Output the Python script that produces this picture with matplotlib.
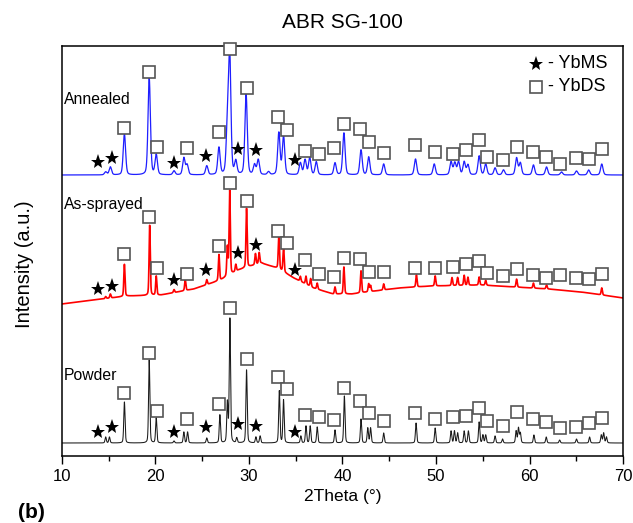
import numpy as np
import matplotlib
matplotlib.use('Agg')
import matplotlib.pyplot as plt
from matplotlib.ticker import MultipleLocator

plt.rcParams['font.family'] = ['Liberation Sans', 'DejaVu Sans']

# ---------------- data ----------------
# peak positions (2theta, deg) and heights above baseline (a.u.)
powder_pos = [14.7, 15.1, 16.7, 19.35, 20.1, 22.0, 23.05, 23.45, 25.5, 26.9, 27.7, 27.97,
              28.7, 29.75, 30.75, 31.2, 33.25, 33.7, 35.55, 36.1, 36.55, 37.3, 39.2, 40.2,
              41.98, 42.7, 43.0, 44.4, 47.86, 49.9, 51.6, 51.96, 52.3, 53.0, 53.45, 54.6,
              55.0, 55.3, 56.3, 57.1, 58.55, 58.8, 59.0, 60.45, 61.77, 63.2, 65.0, 66.4,
              67.65, 67.9, 68.2]
powder_hgt = [6, 6, 41, 83, 25, 2, 11, 11, 5, 28, 40, 124,
              5, 73, 6, 7, 52, 43, 7, 17, 17, 16, 13, 47,
              24, 15, 15, 10, 20, 15, 12, 12, 10, 12, 12, 21,
              8, 8, 7, 4, 12, 15, 10, 8, 6, 3, 4, 6,
              8, 10, 6]
powder_base = 13

sprayed_pos = [14.7, 15.2, 16.7, 19.4, 20.1, 22.0, 23.2, 25.5, 26.8, 27.7, 27.95, 28.6,
               29.75, 30.7, 31.1, 33.2, 33.7, 35.5, 36.1, 36.6, 37.3, 39.2, 40.15, 41.98,
               42.8, 43.0, 44.4, 47.9, 49.9, 51.7, 52.3, 53.0, 53.4, 54.6, 55.3, 58.6,
               60.4, 61.8, 67.7]
sprayed_hgt = [2, 4, 32, 70, 19, 3, 11, 5, 26, 29, 84, 7,
               59, 11, 11, 34, 25, 5, 8, 8, 6, 7, 27, 22,
               8, 6, 6, 12, 10, 8, 8, 10, 8, 8, 5, 8,
               5, 4, 7]
# amorphous background of the as-sprayed coating
sprayed_bg_x = [10, 13.4, 17, 20.6, 24.1, 27, 28.9, 29.9, 31.3, 33, 34.8, 36.9, 39, 41,
                46, 49.5, 54.8, 58.4, 62, 65.5, 70]
sprayed_bg_y = [152, 156, 160, 161, 167, 176, 186, 189, 193, 188, 178, 168, 162, 162,
                168, 170, 171, 169, 167, 164, 158]

annealed_pos = [14.7, 15.2, 16.7, 19.35, 20.1, 22.0, 23.05, 23.4, 25.5, 26.8, 27.7, 27.95,
                28.6, 29.7, 30.6, 31.0, 32.1, 33.2, 33.7, 35.5, 36.0, 36.5, 37.2, 39.2,
                40.15, 41.98, 42.8, 44.4, 47.8, 49.8, 51.6, 52.0, 52.4, 53.0, 53.4, 54.6,
                55.3, 56.3, 57.2, 58.6, 59.0, 60.4, 61.8, 63.4, 65.0, 66.3, 67.7]
annealed_hgt = [3, 8, 41, 97, 20, 4, 17, 10, 9, 27, 45, 119,
                13, 81, 10, 15, 3, 42, 39, 12, 15, 17, 13, 12,
                42, 25, 18, 11, 16, 11, 13, 12, 13, 13, 10, 19,
                11, 7, 5, 17, 12, 10, 8, 3, 4, 5, 11]
annealed_base = 281

# phase markers
star_x = [13.9, 15.4, 22.0, 25.4, 28.8, 30.8, 34.9]
star_y_annealed = [293.7, 297.7, 293.3, 300, 307, 306, 296]
star_y_sprayed = [166.7, 170, 176, 186, 202.7, 211, 186]
star_y_powder = [23.7, 28.7, 24.3, 28.7, 31.7, 30.3, 23.7]

square_x = [16.66, 19.34, 20.13, 23.34, 26.82, 27.97, 29.75, 33.13, 34.03, 36.02, 37.45,
            39.06, 40.13, 41.9, 42.87, 44.41, 47.75, 49.89, 51.85, 53.21, 54.57, 55.45,
            57.2, 58.63, 60.34, 61.76, 63.19, 64.97, 66.33, 67.72]
square_y_annealed = [327.7, 383.7, 309.3, 307.7, 324.3, 407, 367.7, 338.7, 326, 305.3, 302,
                     307.7, 331.7, 326.7, 314.3, 303.3, 311, 303.7, 302, 306, 316, 298.7,
                     296, 308.7, 304.3, 299.3, 292, 297.7, 297, 306.7]
square_y_sprayed = [202, 238.7, 187.7, 182, 210, 273, 255.3, 225.3, 212.7, 196, 182,
                    178.7, 198.3, 196.7, 184.3, 184.3, 188.3, 188.3, 189.3, 191.7, 195.3,
                    182.7, 180, 186.7, 181, 178.3, 181, 177.7, 177, 182]
square_y_powder = [63.3, 102.7, 45, 37, 51.7, 147.7, 97, 79.3, 66.7, 41, 39.3,
                   36, 68.3, 55.3, 43.3, 35.3, 42.7, 37, 38.7, 40, 47.7,
                   35.3, 30.3, 44.3, 36.7, 33.7, 27.7, 29.3, 32.7, 37.7]

x_ticks = [10, 20, 30, 40, 50, 60, 70]
sample_labels = ['Annealed', 'As-sprayed', 'Powder']
legend_labels = ['- YbMS', '- YbDS']


# ---------------- build profiles ----------------
def profile(x, pos, hgt, fwhm):
    y = np.zeros_like(x)
    for c, h in zip(pos, hgt):
        d = (x - c) / fwhm
        g = np.exp(-4 * np.log(2) * d ** 2)
        lor = 1.0 / (1.0 + 4 * d ** 2)
        y += h * (0.7 * g + 0.3 * lor)
    return y


tt = np.linspace(10, 70, 6001)
y_powder = powder_base + profile(tt, powder_pos, powder_hgt, 0.16)
y_sprayed = np.interp(tt, sprayed_bg_x, sprayed_bg_y) + profile(tt, sprayed_pos, sprayed_hgt, 0.15)
y_annealed = annealed_base + profile(tt, annealed_pos, annealed_hgt, 0.30)

# ---------------- figure ----------------
W, H = 633, 523
fig = plt.figure(figsize=(W / 100, H / 100), dpi=100)
ax = fig.add_axes([61.7 / W, 1 - 456 / H, (623.3 - 61.7) / W, (456 - 45.7) / H])

ax.plot(tt, y_powder, color='#1a1a1a', lw=0.75, zorder=2)
ax.plot(tt, y_sprayed, color='#ff0000', lw=1.2, zorder=2)
ax.plot(tt, y_annealed, color='#1f1fff', lw=0.9, zorder=2)

sq_kw = dict(ls='none', marker='s', ms=8, mfc='white', mec='#555555', mew=1.2, zorder=4,
             clip_on=False)
st_kw = dict(ls='none', marker='*', ms=11, mfc='black', mec='black', mew=0, zorder=4)
for sy in (square_y_annealed, square_y_sprayed, square_y_powder):
    ax.plot(square_x, sy, **sq_kw)
for sy in (star_y_annealed, star_y_sprayed, star_y_powder):
    ax.plot(star_x, sy, **st_kw)

# sample labels
ax.text(10.25, 357, sample_labels[0], fontsize=11.3, ha='left', va='center')
ax.text(10.25, 252, sample_labels[1], fontsize=11.3, ha='left', va='center')
ax.text(10.25, 81, sample_labels[2], fontsize=11.3, ha='left', va='center')

# legend (drawn manually)
ax.plot([0.844], [0.9555], transform=ax.transAxes, **st_kw)
ax.plot([0.844], [0.900], transform=ax.transAxes, **sq_kw)
ax.text(0.866, 0.9555, legend_labels[0], transform=ax.transAxes, fontsize=13,
        ha='left', va='center')
ax.text(0.866, 0.900, legend_labels[1], transform=ax.transAxes, fontsize=13,
        ha='left', va='center')

ax.set_xlim(10, 70)
ax.set_ylim(0, 410.3)
ax.set_xticks(x_ticks)
ax.xaxis.set_minor_locator(MultipleLocator(5))
ax.set_yticks([])
ax.tick_params(axis='x', which='major', direction='out', length=5.8, width=1.0,
               labelsize=12, pad=3.5)
ax.tick_params(axis='x', which='minor', direction='out', length=3.4, width=1.0)
for s in ax.spines.values():
    s.set_linewidth(1.1)

fig.text(342.5 / W, 1 - 23 / H, 'ABR SG-100', fontsize=15, ha='center', va='center')
fig.text(342.5 / W, 1 - 497 / H, '2Theta (°)', fontsize=12.5, ha='center', va='center')
fig.text(25 / W, 1 - 264 / H, 'Intensity (a.u.)', fontsize=14.5, rotation=90,
         ha='center', va='center')
fig.text(18 / W, 5 / H, '(b)', fontsize=15, fontweight='bold', ha='left', va='baseline')

fig.savefig('out.png', dpi=100)
